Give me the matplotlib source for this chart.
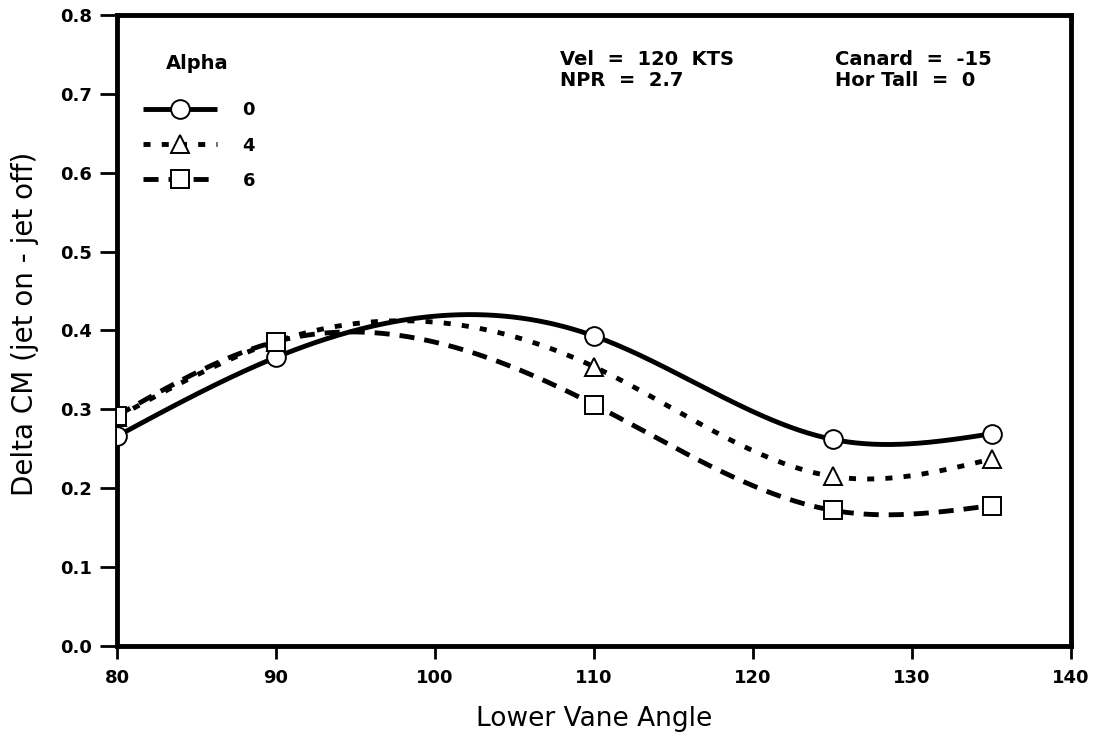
import numpy as np
import matplotlib
matplotlib.use("Agg")
import matplotlib.pyplot as plt
from matplotlib.lines import Line2D

plt.rcParams['font.family'] = ['DejaVu Sans']

vane_angle = [80, 90, 110, 125, 135]
alpha_labels = ['0', '4', '6']
cm_alpha0 = [0.266, 0.366, 0.393, 0.262, 0.269]
cm_alpha4 = [0.290, 0.386, 0.354, 0.215, 0.237]
cm_alpha6 = [0.292, 0.386, 0.306, 0.172, 0.178]

x_ticks = [80, 90, 100, 110, 120, 130, 140]
y_ticks = [0.0, 0.1, 0.2, 0.3, 0.4, 0.5, 0.6, 0.7, 0.8]


def natural_spline(x, y, xs):
    x = np.asarray(x, float); y = np.asarray(y, float)
    n = len(x)
    h = np.diff(x)
    A = np.zeros((n, n)); b = np.zeros(n)
    A[0, 0] = 1; A[-1, -1] = 1
    for i in range(1, n - 1):
        A[i, i - 1] = h[i - 1]
        A[i, i] = 2 * (h[i - 1] + h[i])
        A[i, i + 1] = h[i]
        b[i] = 3 * ((y[i + 1] - y[i]) / h[i] - (y[i] - y[i - 1]) / h[i - 1])
    c = np.linalg.solve(A, b)
    ys = np.empty_like(xs)
    for k, xv in enumerate(xs):
        i = min(max(np.searchsorted(x, xv) - 1, 0), n - 2)
        bi = (y[i + 1] - y[i]) / h[i] - h[i] * (2 * c[i] + c[i + 1]) / 3
        di = (c[i + 1] - c[i]) / (3 * h[i])
        t = xv - x[i]
        ys[k] = y[i] + bi * t + c[i] * t ** 2 + di * t ** 3
    return ys


fig = plt.figure(figsize=(10.98, 7.38), dpi=100)
ax = fig.add_axes([0.1066, 0.1247, 0.8689, 0.855])

xs = np.linspace(vane_angle[0], vane_angle[-1], 400)
LW = 3.5
series = [
    (cm_alpha0, 'o', dict(linestyle='-'), 13.5),
    (cm_alpha4, '^', dict(dashes=[1.45, 2.3]), 13),
    (cm_alpha6, 's', dict(dashes=[3.1, 2.05]), 13),
]
handles = []
for vals, mk, ls, ms in series:
    ys = natural_spline(vane_angle, vals, xs)
    ax.plot(xs, ys, color='black', lw=LW, solid_capstyle='butt',
            dash_capstyle='butt', **ls)
    ax.plot(vane_angle, vals, linestyle='none', marker=mk, ms=ms,
            mfc='white', mec='black', mew=1.4, zorder=5)
    handles.append(Line2D([], [], color='black', lw=LW, marker=mk, ms=ms,
                          mfc='white', mec='black', mew=1.4,
                          solid_capstyle='butt', dash_capstyle='butt', **ls))

ax.legend(handles, alpha_labels, loc='upper left',
          bbox_to_anchor=(0.0273, 0.863), frameon=False,
          borderpad=0, borderaxespad=0,
          handlelength=4.1, labelspacing=0.95, handletextpad=1.4,
          prop={'weight': 'bold', 'size': 13})
ax.text(0.0514, 0.9144, 'Alpha', transform=ax.transAxes, fontsize=14,
        fontweight='bold', va='baseline', ha='left')

ax.text(0.4644, 0.9208, 'Vel  =  120  KTS', transform=ax.transAxes,
        fontsize=14, fontweight='semibold', va='baseline', ha='left')
ax.text(0.4644, 0.8875, 'NPR  =  2.7', transform=ax.transAxes,
        fontsize=14, fontweight='semibold', va='baseline', ha='left')
ax.text(0.7526, 0.9208, 'Canard  =  -15', transform=ax.transAxes,
        fontsize=14, fontweight='semibold', va='baseline', ha='left')
ax.text(0.7526, 0.8875, 'Hor Tall  =  0', transform=ax.transAxes,
        fontsize=14, fontweight='semibold', va='baseline', ha='left')

ax.set_xlim(80, 140)
ax.set_ylim(0, 0.8)
ax.set_xticks(x_ticks)
ax.set_yticks(y_ticks)
ax.set_yticklabels([f'{v:.1f}' for v in y_ticks])
ax.tick_params(direction='out', width=2, labelsize=13)
ax.tick_params(axis='y', length=12, pad=6)
ax.tick_params(axis='x', length=9, pad=7.5)
for lab in ax.get_xticklabels() + ax.get_yticklabels():
    lab.set_fontweight('bold')
for s in ax.spines.values():
    s.set_linewidth(3.5)

ax.set_xlabel('Lower Vane Angle', fontsize=19, labelpad=14)
ax.set_ylabel('Delta CM (jet on - jet off)', fontsize=20)
ax.yaxis.set_label_coords(-0.082, 0.51)

fig.savefig('out.png', dpi=100)
